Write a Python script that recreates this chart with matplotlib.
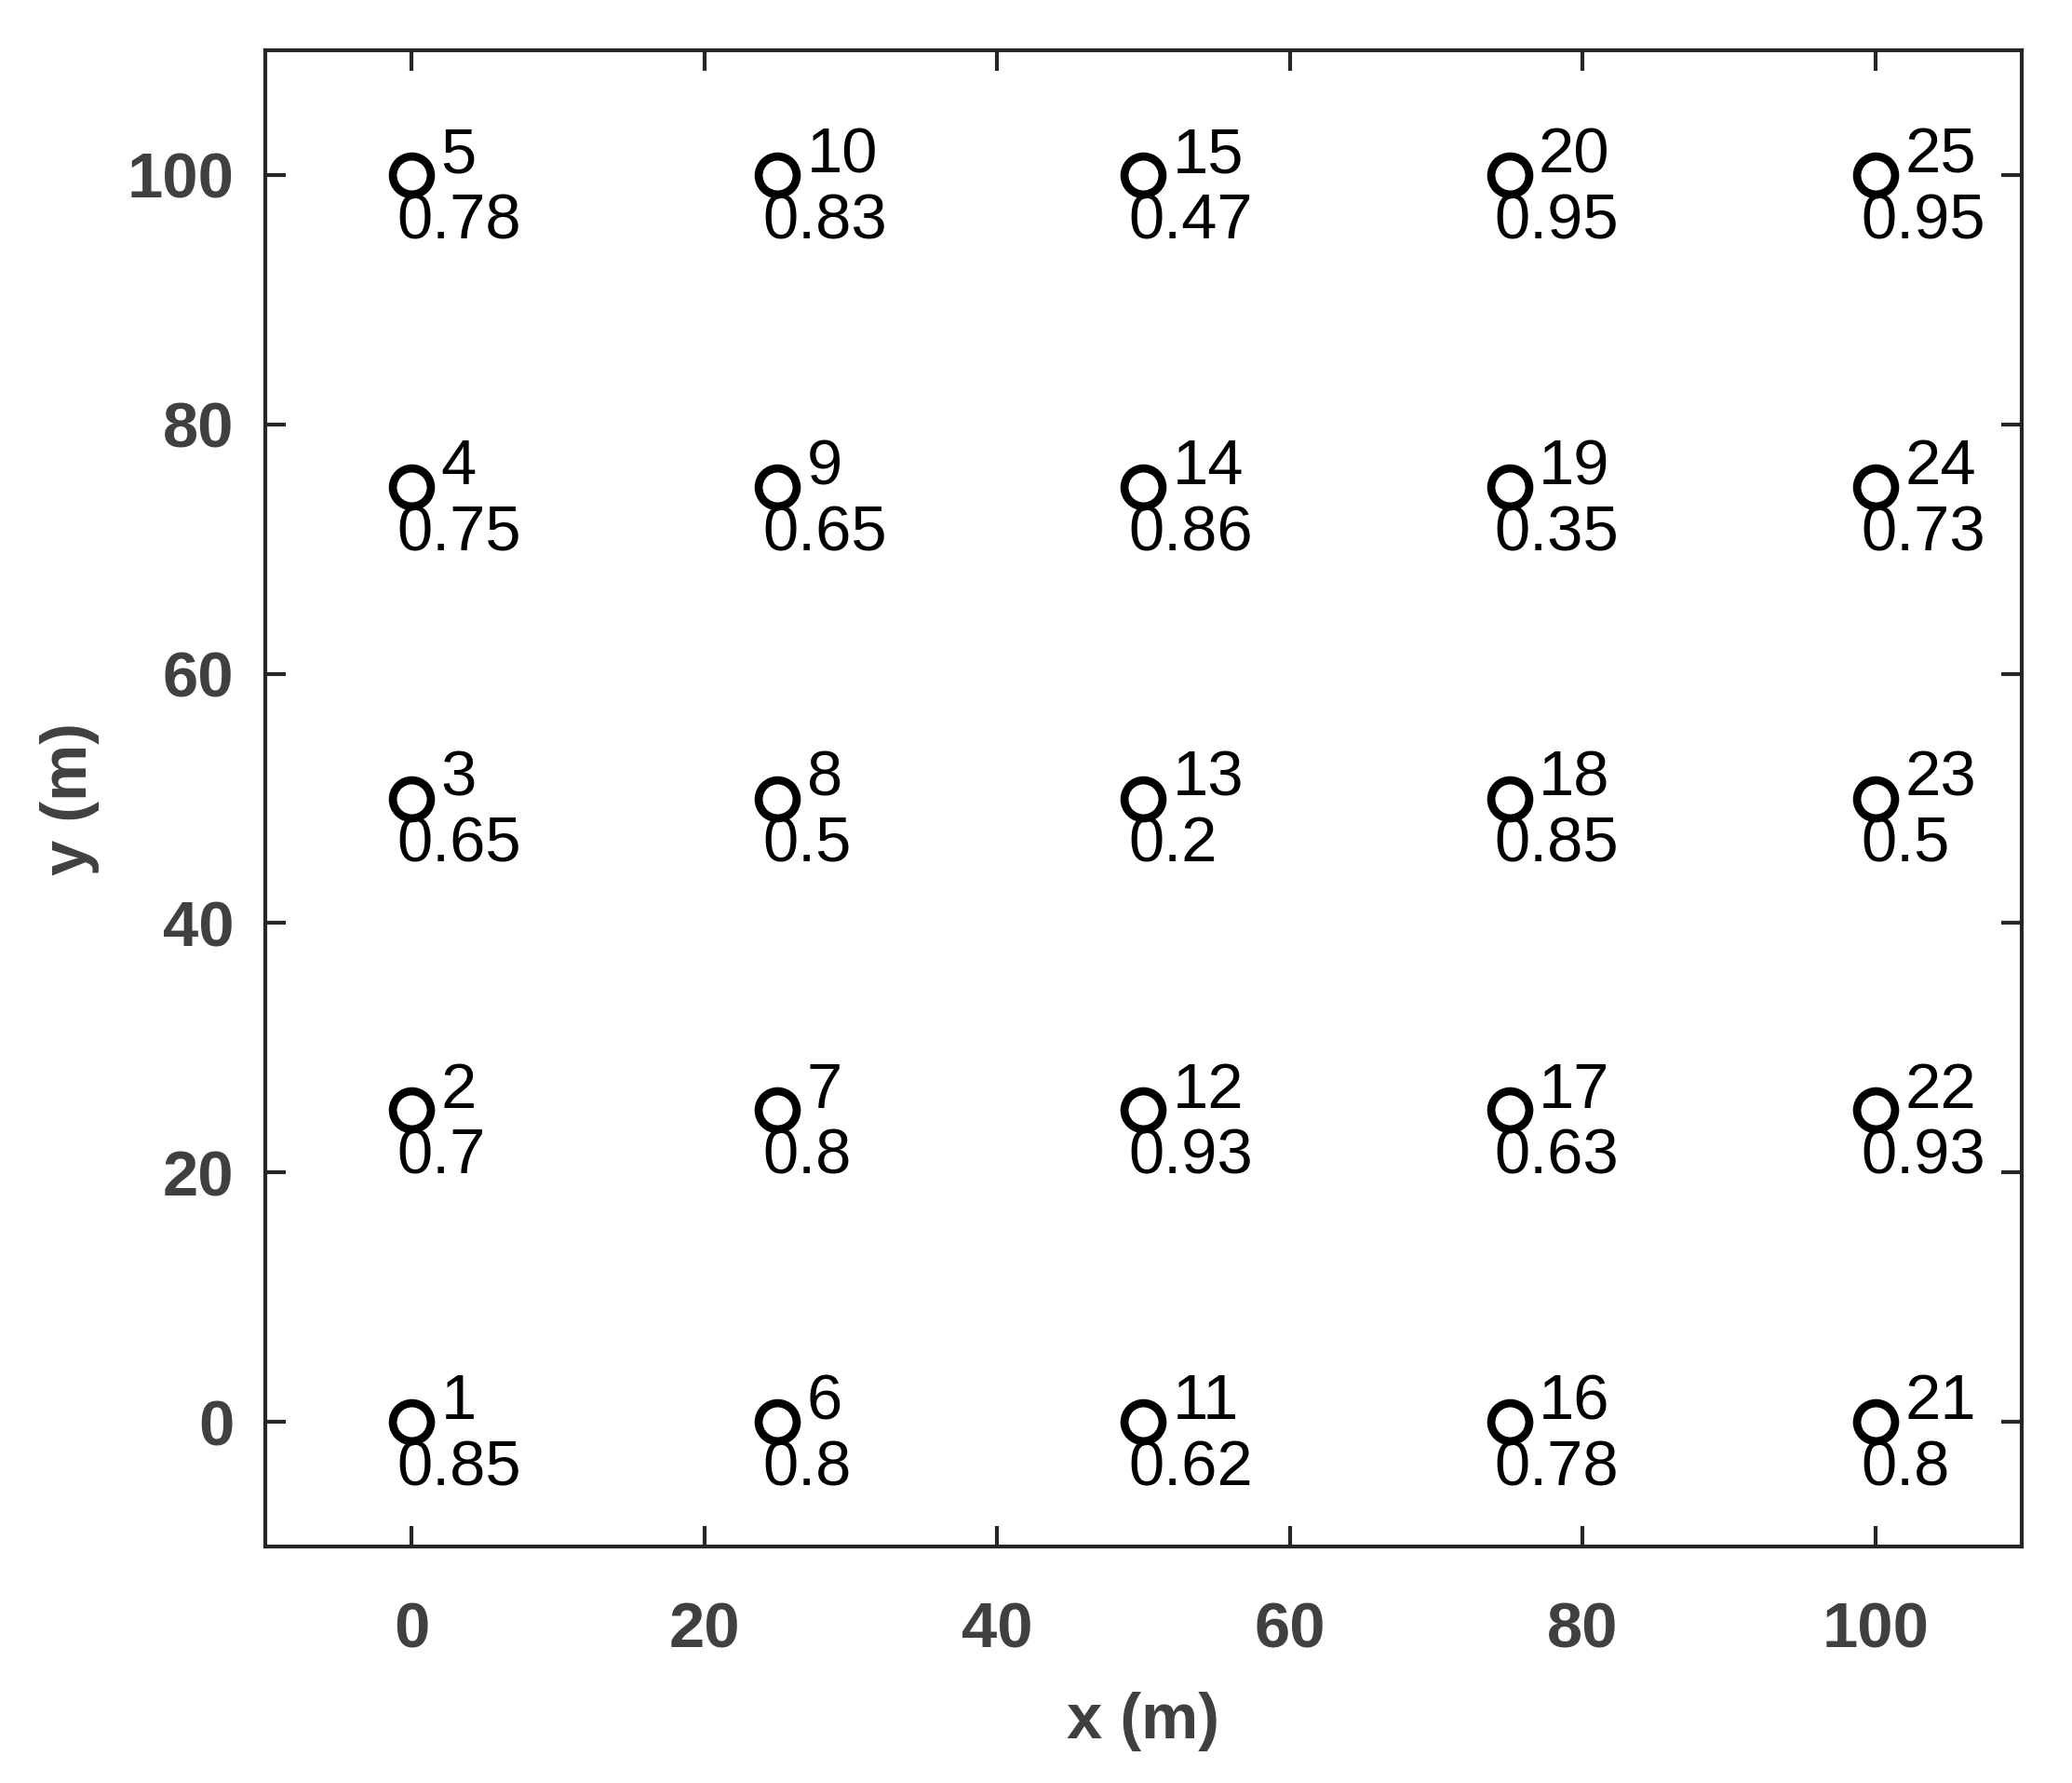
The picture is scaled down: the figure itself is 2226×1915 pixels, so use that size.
import numpy as np
import matplotlib
matplotlib.use('Agg')
import matplotlib.pyplot as plt

# sensor grid positions (m), numbered column by column
xs = [0, 0, 0, 0, 0, 25, 25, 25, 25, 25, 50, 50, 50, 50, 50,
      75, 75, 75, 75, 75, 100, 100, 100, 100, 100]
ys = [0, 25, 50, 75, 100] * 5
ids = list(range(1, 26))
vals = ['0.85', '0.7', '0.65', '0.75', '0.78',
        '0.8', '0.8', '0.5', '0.65', '0.83',
        '0.62', '0.93', '0.2', '0.86', '0.47',
        '0.78', '0.63', '0.85', '0.35', '0.95',
        '0.8', '0.93', '0.5', '0.73', '0.95']
ticks = [0, 20, 40, 60, 80, 100]

plt.rcParams['font.family'] = ['Liberation Sans', 'DejaVu Sans']

fig = plt.figure(figsize=(2226 / 300, 1915 / 300), dpi=300)
ax = fig.add_axes([0.128, 0.1326, 0.8477, 0.8392])

ax.plot(xs, ys, linestyle='none', marker='o', markersize=9.8,
        markerfacecolor='white', markeredgecolor='black', markeredgewidth=2.1)

for x, y, n, v in zip(xs, ys, ids, vals):
    ax.text(x + 2.0, y + 0.2, str(n), fontsize=16.5, color='black',
            ha='left', va='baseline')
    ax.text(x - 1.0, y - 5.1, v, fontsize=16.5, color='black',
            ha='left', va='baseline')

ax.set_xlim(-10, 110)
ax.set_ylim(-10, 110)
ax.set_xticks(ticks)
ax.set_yticks(ticks)

gray = '#404040'
for s in ax.spines.values():
    s.set_color('#262626')
    s.set_linewidth(1.0)
ax.tick_params(direction='in', length=5.2, width=1.0, color='#262626',
               top=True, right=True, labelsize=16.5, labelcolor=gray)
ax.tick_params(axis='x', pad=14)
ax.tick_params(axis='y', pad=8)
for lab in ax.get_xticklabels() + ax.get_yticklabels():
    lab.set_fontweight('bold')

ax.set_xlabel('x (m)', fontsize=16.5, fontweight='bold', color=gray, labelpad=8)
ax.set_ylabel('y (m)', fontsize=16.5, fontweight='bold', color=gray, labelpad=7)

fig.savefig('out.png', dpi=300)
